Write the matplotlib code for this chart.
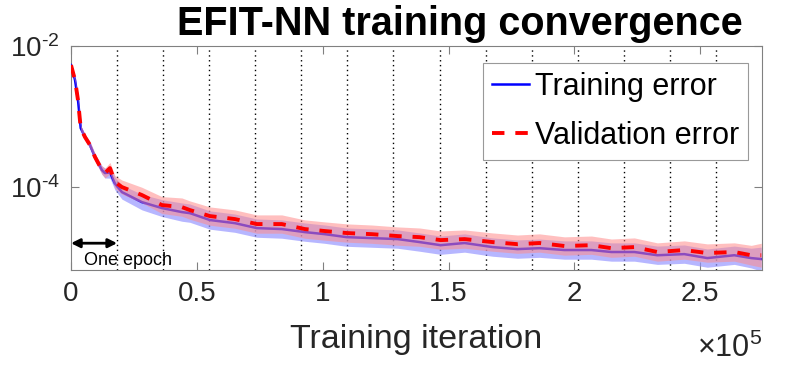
import numpy as np
import matplotlib
matplotlib.use("Agg")
import matplotlib.pyplot as plt
from matplotlib.ticker import FixedLocator, NullLocator, FuncFormatter

# iterations where the curves were read
iters = [0, 1590, 2780, 3850, 5560, 7540, 9520, 12300, 13490, 15475, 17460,
         20240, 28170, 36110, 44050, 47220, 55160, 65080, 73810, 83730, 92850,
         100790, 109520, 119440, 129750, 138480, 146820, 156340, 167450, 177370,
         186100, 196020, 206740, 214670, 223800, 232920, 243640, 252760, 263480,
         270230, 274200]

train_err = [5.37e-3, 3.30e-3, 1.71e-3, 6.87e-4, 5.12e-4, 3.94e-4, 2.67e-4, 1.74e-4,
             1.58e-4, 1.61e-4, 1.12e-4, 8.49e-5, 6.12e-5, 5.04e-5, 4.42e-5, 4.27e-5,
             3.41e-5, 3.08e-5, 2.62e-5, 2.54e-5, 2.30e-5, 2.15e-5, 1.95e-5, 1.89e-5,
             1.83e-5, 1.66e-5, 1.50e-5, 1.61e-5, 1.41e-5, 1.32e-5, 1.36e-5, 1.28e-5,
             1.28e-5, 1.20e-5, 1.20e-5, 1.08e-5, 1.12e-5, 9.84e-6, 1.08e-5, 9.84e-6,
             9.53e-6]

val_err = [5.37e-3, 3.30e-3, 1.71e-3, 6.87e-4, 5.12e-4, 3.94e-4, 2.67e-4, 1.74e-4,
           1.58e-4, 1.86e-4, 1.18e-4, 1.00e-4, 7.71e-5, 5.56e-5, 5.20e-5, 4.72e-5,
           3.88e-5, 3.52e-5, 2.99e-5, 2.99e-5, 2.54e-5, 2.38e-5, 2.23e-5, 2.15e-5,
           2.02e-5, 1.95e-5, 1.77e-5, 1.83e-5, 1.66e-5, 1.55e-5, 1.61e-5, 1.46e-5,
           1.50e-5, 1.36e-5, 1.41e-5, 1.20e-5, 1.28e-5, 1.16e-5, 1.20e-5, 1.08e-5,
           1.08e-5]

# half-width of the shaded band, in decades
band_dec = [0.03, 0.03, 0.03, 0.04, 0.04, 0.05, 0.05, 0.06, 0.07, 0.08, 0.09,
            0.10, 0.11, 0.12, 0.13, 0.13, 0.13, 0.13, 0.13, 0.13, 0.13,
            0.13, 0.13, 0.13, 0.13, 0.13, 0.13, 0.13, 0.13, 0.13,
            0.13, 0.13, 0.13, 0.13, 0.13, 0.13, 0.13, 0.13, 0.13, 0.14, 0.17]

epoch_len = 18300
n_epochs = 15

x = np.array(iters)
tr = np.array(train_err)
va = np.array(val_err)
bw = 10 ** np.array(band_dec)

font = 'Liberation Sans'
plt.rcParams['mathtext.fontset'] = 'custom'
plt.rcParams['mathtext.rm'] = font
plt.rcParams['mathtext.it'] = font

fig = plt.figure(figsize=(7.89, 3.71), dpi=100)
ax = fig.add_axes([0.09, 0.272, 0.8758, 0.6038])

txt = '#262626'

for k in range(1, n_epochs):
    ax.axvline(k * epoch_len, color='black', ls=(0, (1, 2.5)), lw=1.0, zorder=1)

ax.fill_between(x, tr / bw, tr * bw, color='#9090ff', alpha=0.65, lw=0, zorder=2)
ax.plot(x, tr, color='#0000ff', lw=1.8, label='Training error', zorder=3)
ax.fill_between(x, va / bw, va * bw, color='#ff8c8c', alpha=0.55, lw=0, zorder=4)
ax.plot(x, va, color='#ff0000', lw=2.8, ls=(0, (3.2, 2.8)), label='Validation error', zorder=5)

ax.set_yscale('log')
ax.set_xlim(0, n_epochs * epoch_len)
ax.set_ylim(6.65e-6, 1e-2)

ax.yaxis.set_major_locator(FixedLocator([1e-6, 1e-4, 1e-2]))
ax.yaxis.set_minor_locator(NullLocator())
ax.yaxis.set_major_formatter(FuncFormatter(
    lambda v, p: r'$\mathregular{10^{%s}}$' % ('\u2010%d' % abs(round(np.log10(v))))))
ax.xaxis.set_major_locator(FixedLocator([0, 50000, 100000, 150000, 200000, 250000]))
ax.xaxis.set_major_formatter(FuncFormatter(lambda v, p: '%g' % (v / 1e5)))

ax.tick_params(direction='in', length=6, width=0.8, colors='#808080',
               labelcolor=txt, labelsize=20, top=True, right=True, pad=8)
for lab in ax.get_xticklabels() + ax.get_yticklabels():
    lab.set_family(font)

for s in ax.spines.values():
    s.set_color('#808080')
    s.set_linewidth(0.8)

ax.set_xlabel('Training iteration', fontsize=24.5, color=txt, family=font, labelpad=12)
ax.text(0.563, 1.049, 'EFIT-NN training convergence', transform=ax.transAxes,
        fontsize=28.5, fontweight='bold', color='black', family=font,
        ha='center', va='baseline')
ax.text(1.0, -0.35, r'$\times\mathregular{10^{5}}$', transform=ax.transAxes,
        ha='right', va='center', fontsize=22, color=txt, family=font)

ax.annotate('', xy=(0, 1.6e-5), xytext=(epoch_len, 1.6e-5),
            arrowprops=dict(arrowstyle='<|-|>', color='black', lw=2,
                            mutation_scale=13, shrinkA=0, shrinkB=0), zorder=6)
ax.text(0.25 * epoch_len + 700, 9.0e-6, 'One epoch', fontsize=13, color='black',
        family=font, ha='left', va='center')

leg = ax.legend(loc='upper right', bbox_to_anchor=(0.98, 0.925),
                prop={'family': font, 'size': 22}, handlelength=1.2, handletextpad=0.2,
                borderpad=0.3, labelspacing=0.62, borderaxespad=0.0, fancybox=False,
                framealpha=1, edgecolor='#999999')
leg.get_frame().set_linewidth(0.8)

fig.savefig('out.png', dpi=100)
